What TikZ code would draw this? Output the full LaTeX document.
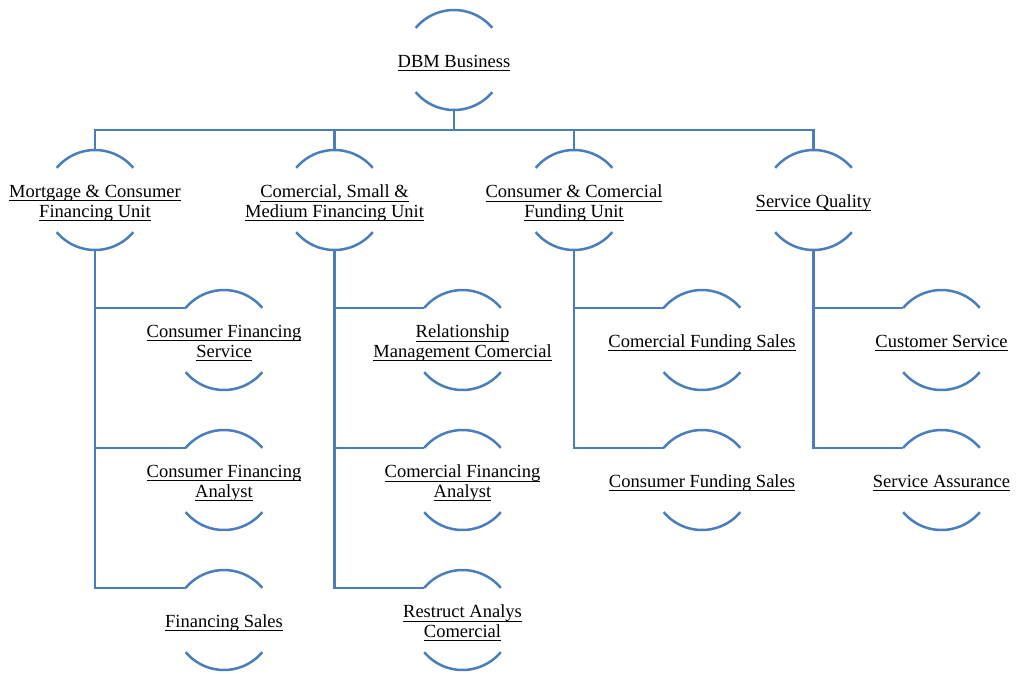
\documentclass[tikz,border=0pt]{standalone}
\usepackage{fontspec}
\setmainfont{Liberation Serif}
\usetikzlibrary{positioning}
\definecolor{orgblue}{RGB}{74,126,187}
\newcommand{\ulline}[1]{\underline{\raisebox{0pt}[\height][1.5pt]{#1}}}
\tikzset{unit/.style={draw=none,align=center,inner sep=0pt,font=\fontsize{18.5}{19.5}\selectfont}}
\tikzset{link/.style={draw=orgblue,line width=2.5pt}}

\begin{document}
\begin{tikzpicture}[x=1pt,y=1pt,on grid]
        \useasboundingbox (0,0) rectangle (1017,-673);
        \node[unit] (dbm) at (454,-63) {\ulline{DBM Business}};

        \node[unit] (mcf) at (95,-203) {\ulline{Mortgage \& Consumer}\\\ulline{Financing Unit}};
        \node[unit,right=239.5pt of mcf] (csm) {\ulline{Comercial, Small \&}\\\ulline{Medium Financing Unit}};
        \node[unit,right=239.5pt of csm] (ccf) {\ulline{Consumer \& Comercial}\\\ulline{Funding Unit}};
        \node[unit,right=239.5pt of ccf] (sq) {\ulline{Service Quality}};

        \node[unit,below right=140pt and 129pt of mcf] (cfs) {\ulline{Consumer Financing}\\\ulline{Service}};
        \node[unit,below=140pt of cfs] (cfan) {\ulline{Consumer Financing}\\\ulline{Analyst}};
        \node[unit,below=140pt of cfan] (fs) {\ulline{Financing Sales}};

        \node[unit,below right=140pt and 128pt of csm] (rmc) {\ulline{Relationship}\\\ulline{Management Comercial}};
        \node[unit,below=140pt of rmc] (cofa) {\ulline{Comercial Financing}\\\ulline{Analyst}};
        \node[unit,below=140pt of cofa] (rac) {\ulline{Restruct Analys}\\\ulline{Comercial}};

        \node[unit,below right=140pt and 128pt of ccf] (cofs) {\ulline{Comercial Funding Sales}};
        \node[unit,below=140pt of cofs] (cnfs) {\ulline{Consumer Funding Sales}};

        \node[unit,below right=140pt and 128pt of sq] (cs) {\ulline{Customer Service}};
        \node[unit,below=140pt of cs] (sa) {\ulline{Service Assurance}};

        % centre of the ring round every unit, and its arcs
        \foreach \n in {dbm,mcf,csm,ccf,sq,cfs,cfan,fs,rmc,cofa,rac,cofs,cnfs,cs,sa}{
            \coordinate (\n-c) at ([yshift=3pt]\n.center);
            \draw[link] ([shift={(40:50pt)}]\n-c) arc[start angle=40,end angle=140,radius=50pt];
            \draw[link] ([shift={(220:50pt)}]\n-c) arc[start angle=220,end angle=320,radius=50pt];
        }

        % top level
        \foreach \n in {mcf,csm,ccf,sq}
            \draw[link] ([yshift=-50pt]dbm-c) -- ++(0,-20) -| ([yshift=50pt]\n-c);

        % second level
        \foreach \p/\c in {mcf/cfs,mcf/cfan,mcf/fs,csm/rmc,csm/cofa,csm/rac,ccf/cofs,ccf/cnfs,sq/cs,sq/sa}
            \draw[link] ([yshift=-50pt]\p-c) |- ([shift={(140:50pt)}]\c-c);
\end{tikzpicture}
\end{document}
